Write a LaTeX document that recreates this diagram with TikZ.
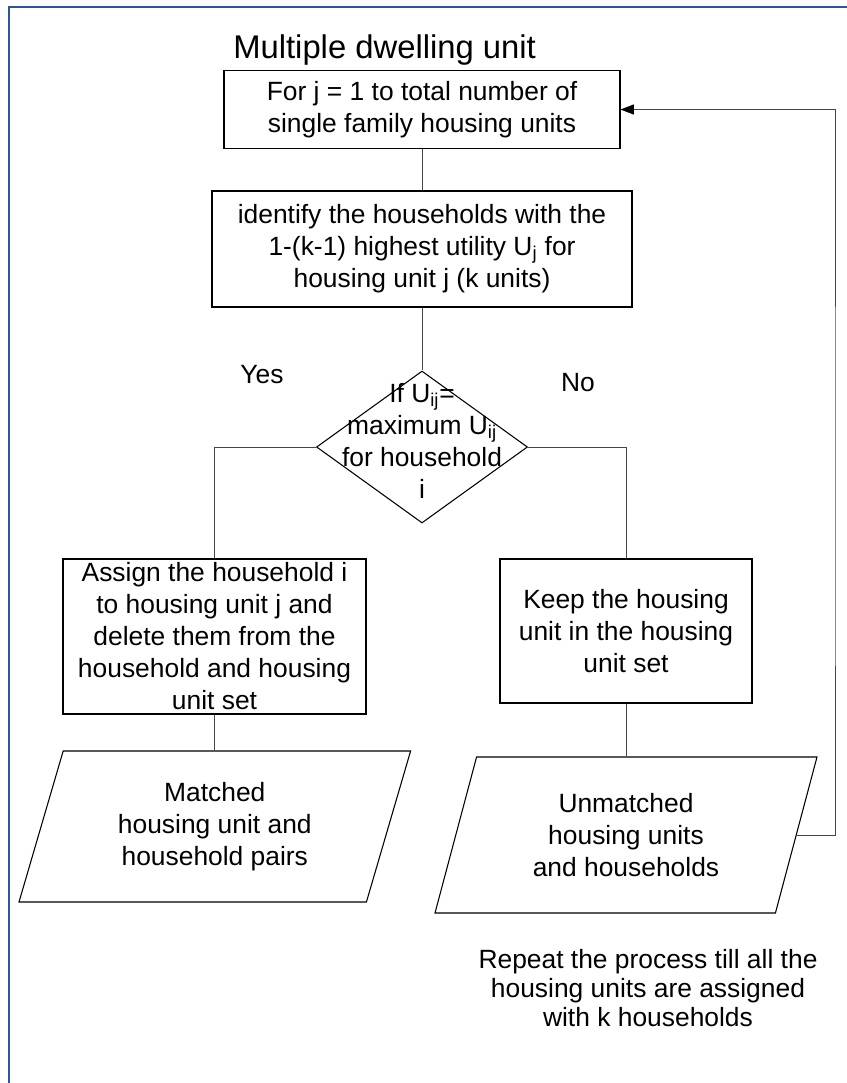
\documentclass[tikz,border=0pt]{standalone}
\usepackage{fontspec}
\setmainfont{Liberation Sans}
\usetikzlibrary{shapes.geometric,arrows.meta}
\definecolor{frameblue}{RGB}{47,85,151}
\definecolor{linegray}{RGB}{70,70,70}

\begin{document}
\begin{tikzpicture}[
    x=0.75pt, y=-0.75pt,
    every node/.style={font=\fontsize{19.8}{24}\selectfont, align=center, inner sep=0pt},
    process/.style={draw, rectangle, line width=0.8pt},
    decision/.style={draw, diamond, line width=0.8pt, minimum width=158.25pt, minimum height=114pt},
    io/.style={draw, trapezium, trapezium left angle=63.5, trapezium right angle=116.5,
      trapezium stretches body, line width=0.8pt},
    flow/.style={draw=linegray, line width=0.75pt},
    loopback/.style={flow, -{Triangle[length=10pt,width=7.5pt,color=black]}}
  ]
  \useasboundingbox (0,0) rectangle (847,1083);
  \coordinate (fbot) at (8.7,1083);
  \coordinate (fcorner) at (8.7,6.7);
  \coordinate (fright) at (847,6.7);
  \draw[frameblue, line width=1.2pt] (fbot) -- (fcorner) -- (fright);

  \node[anchor=west, font=\fontsize{24.6}{29}\selectfont] (title) at (233,50) {Multiple dwelling unit};
  \node[process, minimum width=297pt, minimum height=58.2pt] (start) at (422,109.5)
      {For j = 1 to total number of\\single family housing units};
  \node[process, minimum width=315pt, minimum height=87pt] (ident) at (422,249)
      {identify the households with the\\1-(k-1) highest utility U\textsubscript{j} for\\housing unit j (k units)};
  \node[decision, label={[yshift=4.5pt]center:{If U\textsubscript{ij}=\\maximum U\textsubscript{ij}\\for household\\i}}] (dec) at (422,447) {};
  \node (yes) at (262,375) {Yes};
  \node (no) at (578,383) {No};
  \node[process, minimum width=227.25pt, minimum height=116.25pt] (assign) at (214.5,636.5)
      {Assign the household i\\to housing unit j and\\delete them from the\\household and housing\\unit set};
  \node[process, minimum width=189pt, minimum height=108pt] (keep) at (626,631)
      {Keep the housing\\unit in the housing\\unit set};
  \node[io, minimum width=293.7pt, minimum height=113.25pt] (matched) at (214.8,826.5)
      {Matched\\housing unit and\\household pairs};
  \node[io, minimum width=286.5pt, minimum height=117pt] (unmatched) at (626,835)
      {Unmatched\\housing units\\and households};
  \node[font=\fontsize{19.8}{21.5}\selectfont] (repeat) at (648,988)
      {Repeat the process till all the\\housing units are assigned\\with k households};
  \coordinate (turn) at (835,500);

  \draw[flow] (start.south) -- (ident.north);
  \draw[flow] (ident.south) -- (dec.north);
  \draw[flow] (dec.west) -| (assign.north);
  \draw[flow] (dec.east) -| (keep.north);
  \draw[flow] (assign.south) -- (assign.south |- matched.north);
  \draw[flow] (keep.south) -- (keep.south |- unmatched.north);
  \draw[loopback] (unmatched.right side) -| (turn) |- (start.east);
\end{tikzpicture}
\end{document}
